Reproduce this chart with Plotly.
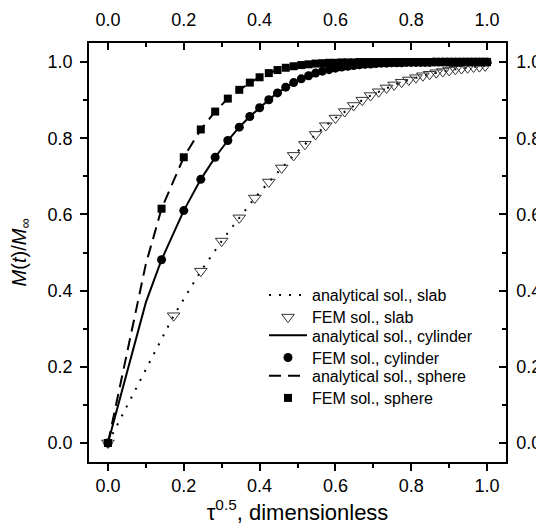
import plotly.graph_objects as go

# FEM sample positions (tau^0.5) and values
x_cs = [0, 0.1414, 0.2, 0.2449, 0.2828, 0.3162, 0.3464, 0.3742, 0.4, 0.4243, 0.4472,
        0.4690, 0.4899, 0.5099, 0.5292, 0.5477, 0.5657, 0.5831, 0.6, 0.6164, 0.6325,
        0.6481, 0.6633, 0.6782, 0.6928, 0.7071, 0.7211, 0.7348, 0.7483, 0.7616, 0.7746,
        0.7874, 0.8, 0.8124, 0.8246, 0.8367, 0.8485, 0.8602, 0.8718, 0.8832, 0.8944,
        0.9055, 0.9165, 0.9274, 0.9381, 0.9487, 0.9592, 0.9695, 0.9798, 0.9899, 1.0]
y_cyl = [0, 0.481, 0.610, 0.692, 0.750, 0.794, 0.829, 0.857, 0.880, 0.901, 0.919,
         0.934, 0.946, 0.956, 0.964, 0.971, 0.976, 0.980, 0.984, 0.987, 0.989,
         0.991, 0.993, 0.994, 0.995, 0.996, 0.997, 0.997, 0.998, 0.998, 0.998,
         0.999, 0.999, 0.999, 0.999, 0.999, 0.999, 1.0, 1.0, 1.0, 1.0,
         1.0, 1.0, 1.0, 1.0, 1.0, 1.0, 1.0, 1.0, 1.0, 1.0]
y_sph = [0, 0.615, 0.750, 0.823, 0.870, 0.904, 0.927, 0.946, 0.960, 0.971, 0.979,
         0.985, 0.989, 0.992, 0.994, 0.996, 0.997, 0.998, 0.998, 0.999, 0.999,
         0.999, 1.0, 1.0, 1.0, 1.0, 1.0, 1.0, 1.0, 1.0, 1.0,
         1.0, 1.0, 1.0, 1.0, 1.0, 1.0, 1.0, 1.0, 1.0, 1.0,
         1.0, 1.0, 1.0, 1.0, 1.0, 1.0, 1.0, 1.0, 1.0, 1.0]
x_slab = [0, 0.1732, 0.2449, 0.3, 0.3464, 0.3873, 0.4243, 0.4583, 0.4899, 0.5196, 0.5477,
          0.5745, 0.6, 0.6245, 0.6481, 0.6708, 0.6928, 0.7141, 0.7348, 0.7550, 0.7746,
          0.7937, 0.8124, 0.8307, 0.8485, 0.8660, 0.8832, 0.9, 0.9165, 0.9327, 0.9487,
          0.9644, 0.9798, 0.9950]
y_slab = [0, 0.334, 0.451, 0.530, 0.591, 0.643, 0.685, 0.722, 0.755, 0.784, 0.810,
          0.833, 0.853, 0.870, 0.886, 0.900, 0.912, 0.922, 0.932, 0.940, 0.947,
          0.953, 0.959, 0.964, 0.968, 0.972, 0.975, 0.978, 0.981, 0.983, 0.985,
          0.987, 0.988, 0.990]

# analytical curves (sampled)
xa_slab = [0, 0.1, 0.1732, 0.2449, 0.3, 0.3464, 0.3873, 0.4243, 0.4583, 0.4899, 0.5196,
           0.5477, 0.5745, 0.6, 0.6245, 0.6481, 0.6708, 0.6928, 0.7141, 0.7348, 0.7550,
           0.7746, 0.7937, 0.8124, 0.8307, 0.8485, 0.8660, 0.8832, 0.9, 0.9165, 0.9327,
           0.9487, 0.9644, 0.9798, 0.9950]
ya_slab = [0, 0.195, 0.334, 0.451, 0.530, 0.591, 0.643, 0.685, 0.722, 0.755, 0.784,
           0.810, 0.833, 0.853, 0.870, 0.886, 0.900, 0.912, 0.922, 0.932, 0.940,
           0.947, 0.953, 0.959, 0.964, 0.968, 0.972, 0.975, 0.978, 0.981, 0.983,
           0.985, 0.987, 0.988, 0.990]
xa_cs = [0, 0.1] + x_cs[1:]
ya_cyl = [0, 0.369] + y_cyl[1:]
ya_sph = [0, 0.47] + y_sph[1:]

legend_names = ["analytical sol., slab", "FEM sol., slab", "analytical sol., cylinder",
                "FEM sol., cylinder", "analytical sol., sphere", "FEM sol., sphere"]

FONT = "Arial, Liberation Sans, sans-serif"
OFF = 8                      # default page body margin shifts the figure by 8 px
W, H = 544 - OFF, 528 - OFF
ML, MR, MT, MB = 89 - OFF, 38, 43 - OFF, 66
PW, PH = W - ML - MR, H - MT - MB

legend_ids = ["legend", "legend2", "legend3", "legend4", "legend5", "legend6"]

fig = go.Figure()
fig.add_trace(go.Scatter(x=xa_slab, y=ya_slab, mode="lines", name=legend_names[0],
                         legend=legend_ids[0],
                         line=dict(color="black", width=2, dash="2px,8px")))
fig.add_trace(go.Scatter(x=x_slab, y=y_slab, mode="markers", name=legend_names[1],
                         legend=legend_ids[1],
                         marker=dict(symbol="triangle-down-open", size=11, color="#333333",
                                     line=dict(width=1))))
fig.add_trace(go.Scatter(x=xa_cs, y=ya_cyl, mode="lines", name=legend_names[2],
                         legend=legend_ids[2],
                         line=dict(color="black", width=2)))
fig.add_trace(go.Scatter(x=x_cs, y=y_cyl, mode="markers", name=legend_names[3],
                         legend=legend_ids[3],
                         marker=dict(symbol="circle", size=9, color="black")))
fig.add_trace(go.Scatter(x=xa_cs, y=ya_sph, mode="lines", name=legend_names[4],
                         legend=legend_ids[4],
                         line=dict(color="black", width=2, dash="12px,7px")))
fig.add_trace(go.Scatter(x=x_cs, y=y_sph, mode="markers", name=legend_names[5],
                         legend=legend_ids[5],
                         marker=dict(symbol="square", size=8, color="black")))
# empty trace to activate the mirrored top/right axes
fig.add_trace(go.Scatter(x=[], y=[], xaxis="x2", yaxis="y2", showlegend=False,
                         hoverinfo="skip"))

tickfont = dict(family=FONT, size=18, color="black")
common = dict(range=[-0.05, 1.05], dtick=0.2, tick0=0, tickformat=".1f",
              showgrid=False, zeroline=False, showline=True, linecolor="black",
              linewidth=1.5, tickcolor="black", tickwidth=1.5, ticklen=7,
              tickfont=tickfont, automargin=False)

# one single-item legend per entry, stacked with ~20 px row spacing (screen px)
legends = {}
for i, lid in enumerate(legend_ids):
    row_center = 296 + 20.2 * i - OFF
    shift = -1 if i % 2 == 0 else 1
    top = row_center - 17 + shift
    legends[lid] = dict(x=(264 - OFF - ML) / PW, y=(H - MB - top) / PH,
                        xanchor="left", yanchor="top", bgcolor="rgba(0,0,0,0)",
                        itemwidth=38,
                        font=dict(family=FONT, size=16, color="black"))

fig.update_layout(
    template="none",
    width=W, height=H, autosize=False,
    margin=dict(l=ML, r=MR, t=MT, b=MB),
    paper_bgcolor="white", plot_bgcolor="white",
    font=dict(family=FONT, color="black"),
    xaxis=dict(**common, ticks="outside",
               minor=dict(ticks="outside", ticklen=4, dtick=0.1, tickcolor="black",
                          tickwidth=1.5),
               title=dict(text="τ<sup>0.5</sup>, dimensionless",
                          font=dict(family=FONT, size=22), standoff=7)),
    yaxis=dict(**common, ticks="outside", ticklabelstandoff=4,
               minor=dict(ticks="outside", ticklen=4, dtick=0.1, tickcolor="black",
                          tickwidth=1.5),
               title=dict(text="<i>M</i>(<i>t</i>)/<i>M</i><sub>∞</sub>",
                          font=dict(family=FONT, size=20), standoff=16)),
    xaxis2=dict(**common, ticks="inside", overlaying="x", side="top", anchor="y2",
                ticklabelstandoff=8,
                minor=dict(ticks="inside", ticklen=4, dtick=0.1, tickcolor="black",
                           tickwidth=1.5)),
    yaxis2=dict(**common, ticks="inside", overlaying="y", side="right", anchor="x2",
                ticklabelstandoff=5,
                minor=dict(ticks="inside", ticklen=4, dtick=0.1, tickcolor="black",
                           tickwidth=1.5)),
    showlegend=True,
    **legends,
)

fig.write_html("out.html")
